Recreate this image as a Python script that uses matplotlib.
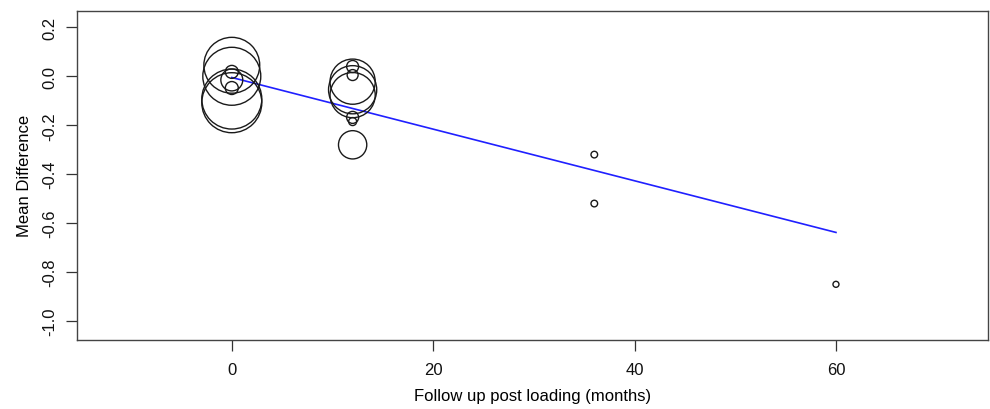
import numpy as np
import matplotlib.pyplot as plt

plt.rcParams['font.family'] = ['Liberation Sans', 'DejaVu Sans']

# --- data: follow-up (months), mean difference, relative study weight ---
months = [0, 0, 0, 0, 0, 0, 0,
          12, 12, 12, 12, 12, 12, 12, 12,
          36, 36, 60]
mean_diff = [0.045, 0.0, 0.018, -0.015, -0.048, -0.093, -0.108,
             0.04, 0.005, -0.022, -0.055, -0.077, -0.168, -0.185, -0.28,
             -0.32, -0.52, -0.85]
weights = [7.8, 8.4, 0.42, 1.2, 0.42, 9.0, 9.0,
           0.36, 0.3, 5.1, 5.8, 5.1, 0.36, 0.16, 2.0,
           0.11, 0.11, 0.09]

# meta-regression fit
intercept = -0.005
slope = -0.01055

x_ticks = [0, 20, 40, 60]
y_ticks = [0.2, 0.0, -0.2, -0.4, -0.6, -0.8, -1.0]

fig = plt.figure(figsize=(9.9, 4.1), dpi=100)
ax = fig.add_axes([0.0775, 0.168, 0.9205, 0.8035])

# marker radius in px ~ sqrt(weight); scatter s in pt^2
radius_px = 10 * np.sqrt(np.array(weights))
sizes = (2 * radius_px * 0.72) ** 2
ax.scatter(months, mean_diff, s=sizes, facecolors='none',
           edgecolors='#1a1a1a', linewidths=1.0, zorder=3)

xfit = np.array([min(months), max(months)])
ax.plot(xfit, intercept + slope * xfit, color='#2020ff', lw=1.2, zorder=2)

ax.set_xlim(-15.4, 75.1)
ax.set_ylim(-1.078, 0.268)
ax.set_xticks(x_ticks)
ax.set_xticklabels([str(t) for t in x_ticks])
ax.set_yticks(y_ticks)
ax.set_yticklabels(['%.1f' % t for t in y_ticks], rotation=90, va='center')

ax.tick_params(axis='both', direction='out', length=7.7, width=0.9,
               color='#333333', labelsize=12, labelcolor='#111111')
ax.tick_params(axis='x', pad=8)
ax.tick_params(axis='y', pad=6)
for s in ax.spines.values():
    s.set_color('#444444')
    s.set_linewidth(1.0)

ax.set_xlabel('Follow up post loading (months)', fontsize=12, labelpad=8)
ax.set_ylabel('Mean Difference', fontsize=12, labelpad=8)

fig.savefig('out.png', dpi=100)
